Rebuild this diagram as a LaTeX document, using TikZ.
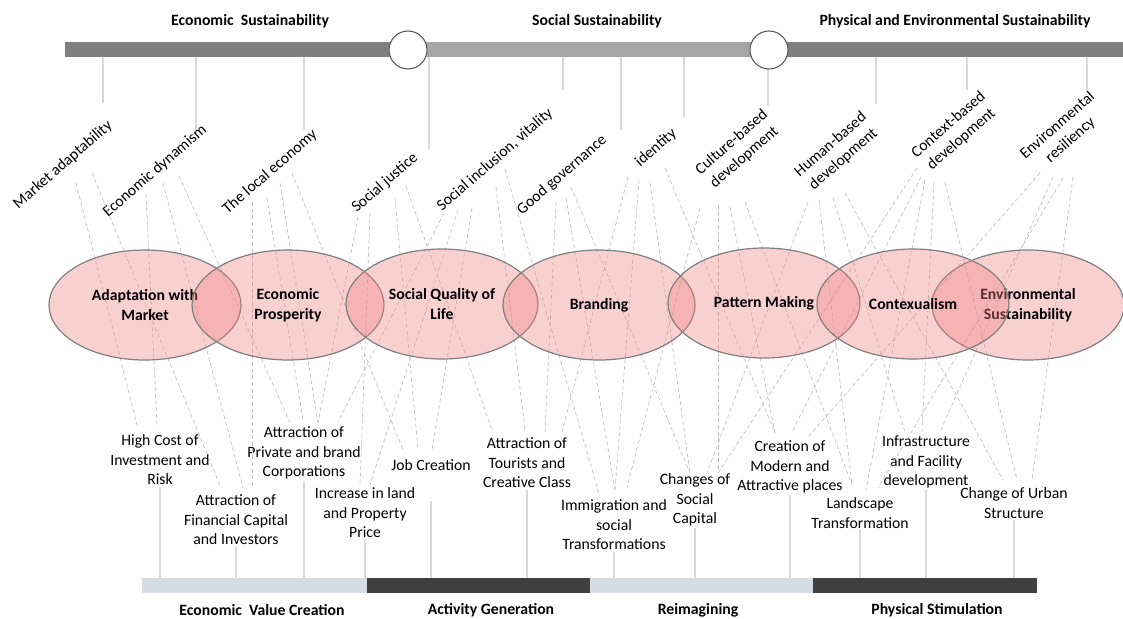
\documentclass[tikz,border=0pt]{standalone}
\usepackage{fontspec}
\setmainfont{Carlito}
\usetikzlibrary{shapes.geometric,calc}
\definecolor{bardark}{HTML}{7F7F7F}
\definecolor{barlight}{HTML}{A6A6A6}
\definecolor{stagelight}{HTML}{D6DCE5}
\definecolor{stagedark}{HTML}{404040}
\definecolor{tickgrey}{HTML}{D9D9D9}
\definecolor{linkgrey}{HTML}{BFBFBF}
\definecolor{knotline}{HTML}{595959}
\definecolor{bubblefill}{RGB}{240,128,128}
\newcommand{\lblsize}{\fontsize{11.8}{14.6}\selectfont}
\tikzset{
    heading/.style = {
        font=\lblsize\bfseries,
        inner sep=1pt
    },
    topic/.style = {
        font=\lblsize,
        rotate=41,
        align=center,
        inner sep=1pt
    },
    effect/.style = {
        font=\lblsize,
        align=center,
        inner sep=1pt
    },
    bubble/.style = {
        draw=bardark,
        shape=ellipse,
        fill=bubblefill,
        fill opacity=0.37,
        text opacity=1,
        minimum width=144pt,
        minimum height=82.5pt,
        inner sep=0pt,
        line width=0.9pt,
        align=center,
        font=\lblsize\bfseries
    },
    knot/.style = {
        draw=knotline,
        shape=circle,
        fill=white,
        minimum size=28.5pt,
        inner sep=0pt,
        line width=0.8pt
    },
    tick/.style = {
        draw=tickgrey,
        line width=0.8pt
    },
    link/.style = {
        draw=linkgrey,
        dash pattern=on 3pt off 2pt,
        line width=0.5pt
    },
}

\begin{document}
\begin{tikzpicture}[x=0.75pt,y=-0.75pt]
    \useasboundingbox (0,0) rectangle (1123,618);

    % three sustainability fields
    \node[heading] (econ) at (250,21) {Economic~ Sustainability};
    \node[heading] (social) at (597,21) {Social Sustainability};
    \node[heading] (phys) at (955,21) {Physical and Environmental Sustainability};

    \fill[bardark] (65,42) rectangle (408,57);
    \fill[barlight] (408,42) rectangle (769,57);
    \fill[bardark] (769,42) rectangle (1123,57);
    \coordinate (topbar) at (0,57);

    % principles
    \node[topic] (mkt) at (63,165) {Market adaptability};
    \node[topic] (dyn) at (155,171) {Economic dynamism};
    \node[topic] (loc) at (270,172) {The local economy};
    \node[topic] (just) at (385,183) {Social justice};
    \node[topic] (incl) at (495,160) {Social inclusion, vitality};
    \node[topic] (gov) at (562,175) {Good governance};
    \node[topic] (ident) at (656,148) {identity};
    \node[topic] (cult) at (738,150) {Culture-based\\development};
    \node[topic] (hum) at (837,152) {Human-based\\development};
    \node[topic] (ctx) at (955,132) {Context-based\\development};
    \node[topic] (env) at (1064,133) {Environmental\\resiliency};

    \coordinate (mkt-tick) at (103,103);
    \coordinate (dyn-tick) at (196,130);
    \coordinate (loc-tick) at (304,130);
    \coordinate (just-tick) at (429,149);
    \coordinate (incl-tick) at (563,90);
    \coordinate (gov-tick) at (621,130);
    \coordinate (ident-tick) at (684,117);
    \coordinate (cult-tick) at (768,106);
    \coordinate (hum-tick) at (876,104);
    \coordinate (ctx-tick) at (967,90);
    \coordinate (env-tick) at (1087,91);
    \path[draw, tick] (mkt-tick |- topbar) -- (mkt-tick);
    \path[draw, tick] (dyn-tick |- topbar) -- (dyn-tick);
    \path[draw, tick] (loc-tick |- topbar) -- (loc-tick);
    \path[draw, tick] (just-tick |- topbar) -- (just-tick);
    \path[draw, tick] (incl-tick |- topbar) -- (incl-tick);
    \path[draw, tick] (gov-tick |- topbar) -- (gov-tick);
    \path[draw, tick] (ident-tick |- topbar) -- (ident-tick);
    \path[draw, tick] (cult-tick |- topbar) -- (cult-tick);
    \path[draw, tick] (hum-tick |- topbar) -- (hum-tick);
    \path[draw, tick] (ctx-tick |- topbar) -- (ctx-tick);
    \path[draw, tick] (env-tick |- topbar) -- (env-tick);

    \node[knot] (knot1) at (408,50) {};
    \node[knot] (knot2) at (769,50) {};

    % effects
    \node[effect] (cost) at (160,460) {High Cost of\\Investment and\\Risk};
    \node[effect] (fin) at (236,520) {Attraction of\\Financial Capital\\and Investors};
    \node[effect] (priv) at (304,453) {Attraction of\\Private and brand\\Corporations};
    \node[effect] (incr) at (365,513) {Increase in land\\and Property\\Price};
    \node[effect] (job) at (431,465) {Job Creation};
    \node[effect] (tour) at (527,463) {Attraction of\\Tourists and\\Creative Class};
    \node[effect] (immi) at (614,525) {Immigration and\\social\\Transformations};
    \node[effect] (capital) at (695,500) {Changes of\\Social\\Capital};
    \node[effect] (crea) at (790,467) {Creation of\\Modern and\\Attractive places};
    \node[effect] (land) at (860,513) {Landscape\\Transformation};
    \node[effect] (infra) at (926,462) {Infrastructure\\and Facility\\development};
    \node[effect] (urban) at (1014,503) {Change of Urban\\Structure};

    % four stages
    \fill[stagelight] (142,578) rectangle (367,593);
    \fill[stagedark] (367,578) rectangle (590,593);
    \fill[stagelight] (590,578) rectangle (813,593);
    \fill[stagedark] (813,578) rectangle (1037,593);
    \coordinate (botbar) at (0,578);

    \path[draw, tick] (cost.south) -- (cost.south |- botbar);
    \path[draw, tick] (fin.south) -- (fin.south |- botbar);
    \path[draw, tick] (priv.south) -- (priv.south |- botbar);
    \path[draw, tick] (incr.south) -- (incr.south |- botbar);
    \path[draw, tick] ([yshift=-22pt]job.south) -- (job.south |- botbar);
    \path[draw, tick] (tour.south) -- (tour.south |- botbar);
    \path[draw, tick] (immi.south) -- (immi.south |- botbar);
    \path[draw, tick] (capital.south) -- (capital.south |- botbar);
    \path[draw, tick] (crea.south) -- (crea.south |- botbar);
    \path[draw, tick] (land.south) -- (land.south |- botbar);
    \path[draw, tick] (infra.south) -- (infra.south |- botbar);
    \path[draw, tick] (urban.south) -- (urban.south |- botbar);

    \node[heading] (value) at (262,610) {Economic~ Value Creation};
    \node[heading] (activity) at (491,610) {Activity Generation};
    \node[heading] (reimag) at (698,610) {Reimagining};
    \node[heading] (stim) at (937,610) {Physical Stimulation};

    % link ends below the principles
    \coordinate (mkt-a) at (76,183); \coordinate (mkt-b) at (92,173);
    \coordinate (dyn-a) at (146,194); \coordinate (dyn-b) at (163,183); \coordinate (dyn-c) at (179,176);
    \coordinate (loc-a) at (252,202); \coordinate (loc-b) at (267,198); \coordinate (loc-c) at (280,183); \coordinate (loc-d) at (292,173);
    \coordinate (just-a) at (358,217); \coordinate (just-b) at (370,213); \coordinate (just-c) at (395,198); \coordinate (just-d) at (406,186);
    \coordinate (incl-a) at (444,213); \coordinate (incl-b) at (458,210); \coordinate (incl-c) at (472,208); \coordinate (incl-d) at (496,187); \coordinate (incl-e) at (505,169);
    \coordinate (gov-a) at (556,202); \coordinate (gov-b) at (566,198); \coordinate (gov-c) at (571,187);
    \coordinate (ident-a) at (628,177); \coordinate (ident-b) at (639,180); \coordinate (ident-c) at (650,183); \coordinate (ident-d) at (665,168);
    \coordinate (cult-a) at (700,208); \coordinate (cult-b) at (718,205); \coordinate (cult-c) at (730,207); \coordinate (cult-d) at (745,202);
    \coordinate (hum-a) at (808,202); \coordinate (hum-b) at (819,200); \coordinate (hum-c) at (833,198); \coordinate (hum-d) at (845,193);
    \coordinate (ctx-a) at (917,168); \coordinate (ctx-b) at (921,177); \coordinate (ctx-c) at (925,180); \coordinate (ctx-d) at (934,182); \coordinate (ctx-e) at (945,182);
    \coordinate (env-a) at (1040,173); \coordinate (env-b) at (1053,177); \coordinate (env-c) at (1063,178); \coordinate (env-d) at (1073,177);

    % link ends above the effects
    \coordinate (cost-a) at (137,425); \coordinate (cost-b) at (157,425);
    \coordinate (fin-a) at (221,488); \coordinate (fin-b) at (243,488); \coordinate (fin-c) at (252,485);
    \coordinate (priv-a) at (290,422); \coordinate (priv-b) at (303,420); \coordinate (priv-c) at (318,423); \coordinate (priv-d) at (338,422);
    \coordinate (incr-a) at (360,485); \coordinate (incr-b) at (370,485);
    \coordinate (job-a) at (403,450); \coordinate (job-b) at (418,450); \coordinate (job-c) at (432,450);
    \coordinate (tour-a) at (492,430); \coordinate (tour-b) at (525,430); \coordinate (tour-c) at (545,432); \coordinate (tour-d) at (562,432);
    \coordinate (immi-a) at (600,497); \coordinate (immi-b) at (615,490); \coordinate (immi-c) at (627,487);
    \coordinate (capital-a) at (690,473); \coordinate (capital-b) at (707,473); \coordinate (capital-c) at (718,473);
    \coordinate (crea-a) at (775,433); \coordinate (crea-b) at (792,432); \coordinate (crea-c) at (808,437);
    \coordinate (land-a) at (852,485); \coordinate (land-b) at (866,490); \coordinate (land-c) at (878,488);
    \coordinate (infra-a) at (905,432); \coordinate (infra-b) at (922,432); \coordinate (infra-c) at (940,432);
    \coordinate (urban-a) at (1003,480); \coordinate (urban-b) at (1017,480); \coordinate (urban-c) at (1032,480);

    \path[link] (mkt-a) -- (cost-a);
    \path[link] (mkt-b) -- (fin-a);
    \path[link] (dyn-a) -- (cost-b);
    \path[link] (dyn-b) -- (fin-b);
    \path[link] (dyn-c) -- (priv-a);
    \path[link] (loc-a) -- (fin-c);
    \path[link] (loc-b) -- (priv-b);
    \path[link] (loc-c) -- (priv-c);
    \path[link] (loc-d) -- (job-a);
    \path[link] (just-a) -- (priv-c);
    \path[link] (just-b) -- (incr-a);
    \path[link] (just-c) -- (job-b);
    \path[link] (just-d) -- (tour-a);
    \path[link] (incl-a) -- (priv-d);
    \path[link] (incl-b) -- (incr-b);
    \path[link] (incl-c) -- (job-c);
    \path[link] (incl-d) -- (tour-b);
    \path[link] (incl-e) -- (immi-a);
    \path[link] (gov-a) -- (tour-c);
    \path[link] (gov-b) -- (immi-b);
    \path[link] (gov-c) -- (capital-a);
    \path[link] (ident-a) -- (tour-d);
    \path[link] (ident-b) -- (immi-b);
    \path[link] (ident-c) -- (capital-a);
    \path[link] (ident-d) -- (crea-a);
    \path[link] (cult-a) -- (immi-c);
    \path[link] (cult-b) -- (capital-c);
    \path[link] (cult-c) -- (crea-a);
    \path[link] (cult-d) -- (land-a);
    \path[link] (hum-a) -- (capital-b);
    \path[link] (hum-b) -- (land-a);
    \path[link] (hum-c) -- (infra-a);
    \path[link] (hum-d) -- (urban-a);
    \path[link] (ctx-a) -- (capital-c);
    \path[link] (ctx-b) -- (crea-b);
    \path[link] (ctx-c) -- (land-b);
    \path[link] (ctx-d) -- (infra-b);
    \path[link] (ctx-e) -- (urban-b);
    \path[link] (env-a) -- (crea-c);
    \path[link] (env-b) -- (infra-c);
    \path[link] (env-c) -- (land-c);
    \path[link] (env-d) -- (urban-c);

    % strategies
    \node[bubble] (adapt) at (145,305) {Adaptation with\\Market};
    \node[bubble] (prosp) at (288,305) {Economic\\Prosperity};
    \node[bubble] (quality) at (442,304) {Social Quality of\\Life};
    \node[bubble] (brand) at (599,305) {Branding};
    \node[bubble] (pattern) at (764,303) {Pattern Making};
    \node[bubble] (envsus) at (1028,305) {Environmental\\Sustainability};
    \node[bubble] (context) at (913,304) {Contexualism};
\end{tikzpicture}
\end{document}
